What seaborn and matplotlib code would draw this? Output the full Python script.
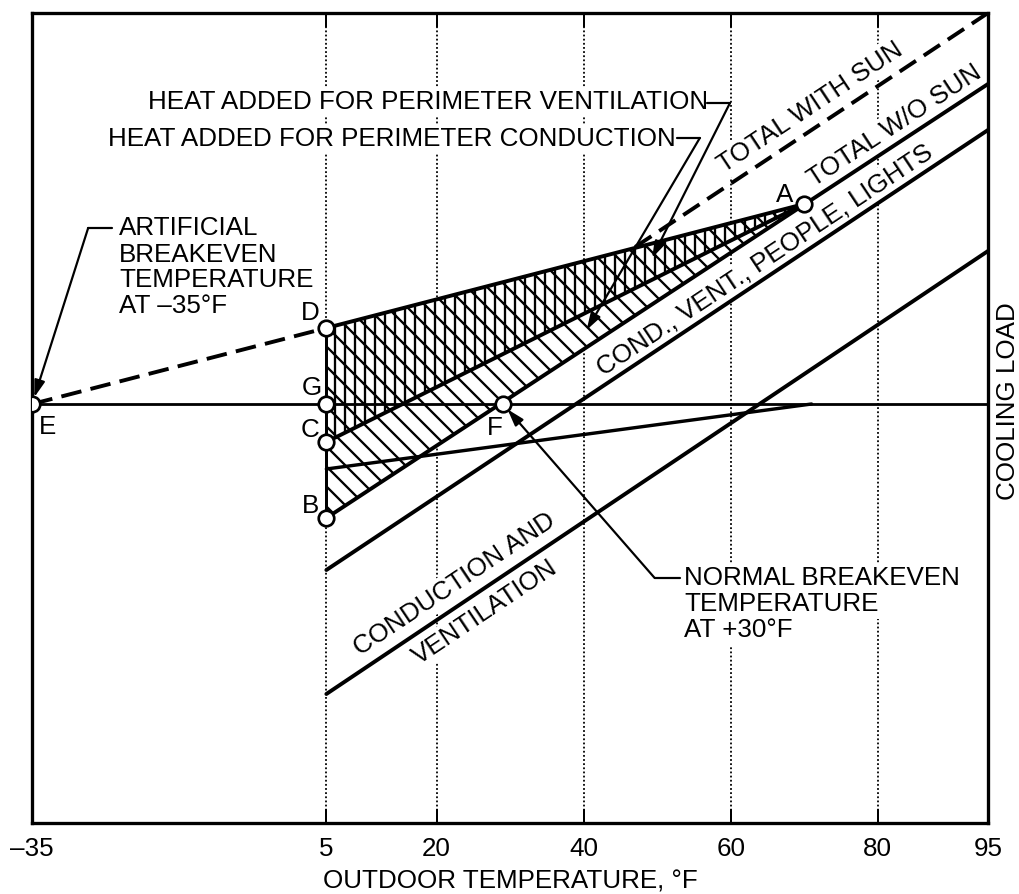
import numpy as np
import matplotlib
matplotlib.use("Agg")
import matplotlib.pyplot as plt
import seaborn as sns

# ---------------- data ----------------
xtick_vals = [-35, 5, 20, 40, 60, 80, 95]
xtick_labels = ["–35", "5", "20", "40", "60", "80", "95"]
grid_x = [5, 20, 40, 60, 80]

point_names = ["E", "D", "G", "C", "B", "F", "A"]
point_x = [-35, 5, 5, 5, 5, 29, 70]
point_y = [0.0, 7.6, 0.0, -3.8, -11.4, 0.0, 20.0]

artificial_x = [-35, 5]
artificial_y = [0.0, 7.6]          # E-D (dashed)
upper_x = [5, 70]
upper_y = [7.6, 20.0]              # D-A
middle_x = [5, 70]
middle_y = [-3.8, 20.0]            # C-A
total_x = [5, 95]
total_y = [-11.4, 32.0]            # B-F-A: total w/o sun
sun_x = [47, 95]
sun_y = [15.7, 39.1]               # total with sun
cvpl_x = [5, 95]
cvpl_y = [-16.6, 27.4]             # cond., vent., people, lights
cv_x = [5, 95]
cv_y = [-29.0, 15.3]               # conduction and ventilation
low_x = [5, 71]
low_y = [-6.5, 0.0]
zero_x = [-35, 95]
zero_y = [0.0, 0.0]
edge_x = [5, 5]
edge_y = [-11.4, 7.6]

# ---------------- style ----------------
DPI = 60
K = 72.0 / DPI          # points per pixel


def px(v):
    return v * K


sns.set_style("white")
plt.rcParams["font.family"] = ["Liberation Sans", "DejaVu Sans"]
plt.rcParams["text.color"] = "black"
plt.rcParams["axes.labelcolor"] = "black"
plt.rcParams["xtick.color"] = "black"
plt.rcParams["hatch.linewidth"] = px(2.3)
plt.rcParams["hatch.color"] = "black"

fig = plt.figure(figsize=(1019 / DPI, 894 / DPI), dpi=DPI)
ax = fig.add_axes([32.3 / 1019, 1 - 822.7 / 894, (988 - 32.3) / 1019, (822.7 - 12.7) / 894])
ax.set_xlim(-35, 95)
ax.set_ylim(-41.87, 39.13)

FS = px(26)
P = dict(zip(point_names, zip(point_x, point_y)))


def seg(x, y, lw=3.9, z=3, **kw):
    sns.lineplot(x=x, y=y, ax=ax, estimator=None, sort=False, color="black",
                 linewidth=px(lw), zorder=z, **kw)


# grid lines (dotted)
for gx in grid_x:
    ax.axvline(gx, color="black", lw=px(1.8), linestyle=(0, (1.0, 1.3)), zorder=0.5)

# hatched areas
ux = [P["D"][0], P["A"][0], P["C"][0]]
uy = [P["D"][1], P["A"][1], P["C"][1]]
lx = [P["C"][0], P["A"][0], P["B"][0]]
ly = [P["C"][1], P["A"][1], P["B"][1]]
ax.fill(ux, uy, facecolor="white", edgecolor="black", hatch="\\|", linewidth=0, zorder=1)
ax.fill(lx, ly, facecolor="white", edgecolor="black", hatch="\\", linewidth=0, zorder=1)

# lines
seg(zero_x, zero_y, lw=2.8)
seg(artificial_x, artificial_y, linestyle=(0, (5.3, 2.4)))
seg(upper_x, upper_y)
seg(middle_x, middle_y)
seg(total_x, total_y)
seg(sun_x, sun_y, linestyle=(0, (5.0, 2.4)))
seg(cvpl_x, cvpl_y)
seg(cv_x, cv_y)
seg(low_x, low_y, lw=3.4)
seg(edge_x, edge_y, lw=3.0)

# points
sns.scatterplot(x=point_x, y=point_y, ax=ax, s=px(15.5) ** 2, color="white",
                edgecolor="black", linewidth=px(2.7), zorder=7)

# point letters
letter_pos = {"E": (-33.0, -2.3), "D": (2.8, 9.1), "G": (3.0, 1.6), "C": (2.8, -2.6),
              "B": (2.9, -10.2), "F": (27.9, -2.4), "A": (67.35, 20.9)}
for name in point_names:
    tx, ty = letter_pos[name]
    ax.text(tx, ty, name, fontsize=FS, ha="center", va="center", zorder=6)

box = dict(boxstyle="square,pad=0.12", fc="white", ec="none")


def ang(xs, ys):
    p = ax.transData.transform([(xs[0], ys[0]), (xs[-1], ys[-1])])
    return np.degrees(np.arctan2(p[1, 1] - p[0, 1], p[1, 0] - p[0, 0]))


rot_texts = [
    ("TOTAL WITH SUN", 70.8, 29.7, ang(sun_x, sun_y)),
    ("TOTAL W/O SUN", 82.3, 27.8, ang(total_x, total_y)),
    ("COND., VENT., PEOPLE, LIGHTS", 64.7, 14.4, ang(cvpl_x, cvpl_y)),
    ("CONDUCTION AND", 22.5, -18.0, ang(cv_x, cv_y)),
    ("VENTILATION", 26.6, -20.85, ang(cv_x, cv_y)),
]
for s, tx, ty, r in rot_texts:
    ax.text(tx, ty, s, fontsize=FS, rotation=r, rotation_mode="anchor",
            ha="center", va="center", bbox=box, zorder=2.5)

arrow = dict(arrowstyle="-|>,head_length=0.7,head_width=0.22", mutation_scale=px(20),
             lw=px(2.2), color="black", shrinkA=0, shrinkB=0)
LW_LEAD = px(2.2)

# leader: ventilation
ax.text(-19.3, 30.2, "HEAT ADDED FOR PERIMETER VENTILATION", fontsize=FS,
        ha="left", va="center", bbox=box, zorder=2.5)
ax.plot([56.75, 59.9], [30.1, 30.1], color="black", lw=LW_LEAD, zorder=5)
ax.annotate("", xy=(49.3, 14.6), xytext=(59.9, 30.1), arrowprops=arrow, zorder=5)

# leader: conduction
ax.text(-24.7, 26.5, "HEAT ADDED FOR PERIMETER CONDUCTION", fontsize=FS,
        ha="left", va="center", bbox=box, zorder=2.5)
ax.plot([52.7, 55.8], [26.6, 26.6], color="black", lw=LW_LEAD, zorder=5)
ax.annotate("", xy=(40.4, 7.4), xytext=(55.8, 26.6), arrowprops=arrow, zorder=5)

# leader: artificial breakeven
for s, ty in zip(["ARTIFICIAL", "BREAKEVEN", "TEMPERATURE", "AT –35°F"], [17.6, 14.9, 12.4, 9.8]):
    ax.text(-23.2, ty, s, fontsize=FS, ha="left", va="center", bbox=box, zorder=2.5)
ax.plot([-24.15, -27.4], [17.6, 17.6], color="black", lw=LW_LEAD, zorder=5)
ax.annotate("", xy=(-34.73, 0.67), xytext=(-27.4, 17.6), arrowprops=arrow, zorder=8)

# leader: normal breakeven
for s, ty in zip(["NORMAL BREAKEVEN", "TEMPERATURE", "AT +30°F"], [-17.4, -20.0, -22.6]):
    ax.text(53.7, ty, s, fontsize=FS, ha="left", va="center", bbox=box, zorder=2.5)
ax.plot([53.06, 49.66], [-17.4, -17.4], color="black", lw=LW_LEAD, zorder=5)
ax.annotate("", xy=(29.64, -0.53), xytext=(49.66, -17.4), arrowprops=arrow, zorder=8)

# axes
ax.set_xticks(xtick_vals)
ax.set_xticklabels(xtick_labels)
ax.set_yticks([])
ax.tick_params(axis="x", direction="in", length=px(14), width=px(2), top=True, bottom=True,
               labelsize=FS, pad=px(14), colors="black")
for sp in ax.spines.values():
    sp.set_visible(True)
    sp.set_linewidth(px(3.3))
    sp.set_color("black")
ax.set_xlabel("OUTDOOR TEMPERATURE, °F", fontsize=FS, labelpad=px(9))
ax.set_ylabel("")
fig.text(1008 / 1019, 1 - 401 / 894, "COOLING LOAD", fontsize=FS, rotation=90,
         ha="center", va="center")

fig.savefig("out.png", dpi=DPI)
